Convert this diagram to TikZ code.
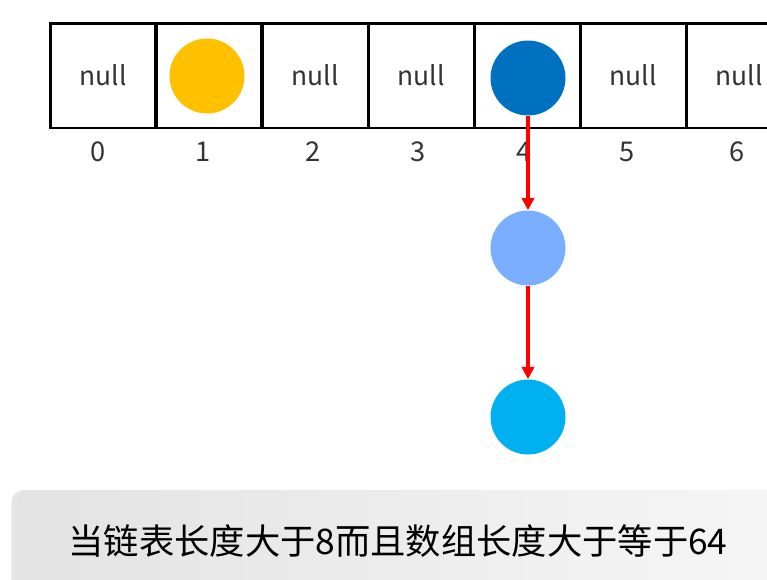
\documentclass[tikz,border=0pt]{standalone}
\usepackage{fontspec}
\newfontfamily\cjk{Noto Sans CJK SC}
\usetikzlibrary{arrows.meta, positioning, shadows}
\definecolor{ballyellow}{HTML}{FFC000}
\definecolor{balldark}{HTML}{0070C0}
\definecolor{balllight}{HTML}{7BAEFF}
\definecolor{ballcyan}{HTML}{00B0F0}

\begin{document}
\begin{tikzpicture}[x=0.02cm,y=-0.02cm,
  cell/.style={rectangle,draw=black,line width=1.7pt,minimum width=2.12cm,
               minimum height=2.1cm,inner sep=0pt,text=black!80,
               font=\cjk\fontsize{15}{17}\selectfont},
  idx/.style={text=black!80,font=\cjk\fontsize{15.5}{18}\selectfont},
  ball/.style={circle,minimum size=1.5cm,inner sep=0pt},
  link/.style={-{Triangle[length=7pt,width=7pt]},line width=2.2pt,red},
  note/.style={rectangle,rounded corners=7pt,minimum width=15.5cm,minimum height=2.4cm,
               left color=gray!22,right color=gray!7,
               drop shadow={shadow xshift=-3pt,shadow yshift=0pt,opacity=0.2}}
]
  \useasboundingbox (0,0) rectangle (767,579);

  % array of buckets
  \node[cell] (cell0) at (103,75.5) {null};
  \node[cell] (cell1) at (209,75.5) {};
  \node[cell] (cell2) at (315,75.5) {null};
  \node[cell] (cell3) at (421,75.5) {null};
  \node[cell] (cell4) at (527,75.5) {};
  \node[cell] (cell5) at (633,75.5) {null};
  \node[cell] (cell6) at (739,75.5) {null};

  \node[idx] (idx0) at (98,152)  {0};
  \node[idx] (idx1) at (203,152) {1};
  \node[idx] (idx2) at (313,152) {2};
  \node[idx] (idx3) at (418,152) {3};
  \node[idx] (idx4) at (524,152) {4};
  \node[idx] (idx5) at (627,152) {5};
  \node[idx] (idx6) at (737,152) {6};

  % entries
  \node[ball,fill=ballyellow] (entry1) at (207,76) {};
  \node[ball,fill=balldark]   (entry4) at (528,78) {};
  \node[ball,fill=balllight]  (chain1) at (528,248) {};
  \node[ball,fill=ballcyan]   (chain2) at (528,417) {};

  \draw[link] (entry4.south) -- (chain1.north);
  \draw[link] (chain1.south) -- (chain2.north);

  % caption
  \node[note] (capbox) at (404,550) {};
  \node[font=\cjk\fontsize{20.1}{24}\selectfont] (caption) at (398,541)
    {当链表长度大于8而且数组长度大于等于64};
\end{tikzpicture}
\end{document}
